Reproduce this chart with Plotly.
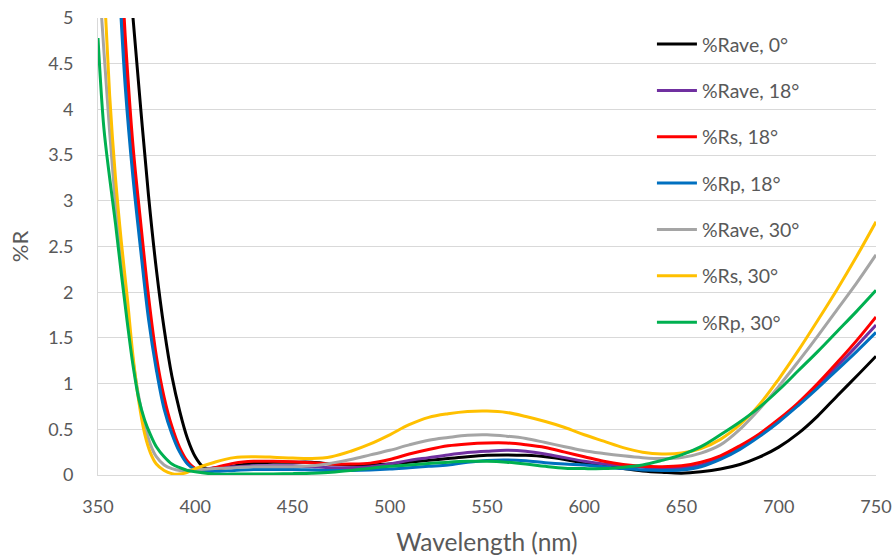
import plotly.graph_objects as go

# Reflectance (%R) versus wavelength for a broadband AR coating at several angles of incidence.
# Readings: tight steps on the steep UV edge, 10 nm steps across the visible band.

wl_rave0 = [350, 360, 364, 368, 372, 376, 380, 384, 388, 392, 396, 400, 404, 408,
            420, 430, 440, 450, 460, 470, 480, 490, 500, 510, 520, 530, 540, 550, 560, 570,
            580, 590, 600, 610, 620, 630, 640, 650, 660, 670, 680, 690, 700, 710, 720, 730,
            740, 750]
r_rave0 = [10.5, 7.3, 6.1, 5.0, 4.0, 3.05, 2.25, 1.6, 1.08, 0.7, 0.4, 0.2, 0.09, 0.06,
           0.1, 0.13, 0.14, 0.14, 0.14, 0.12, 0.11, 0.11, 0.12, 0.14, 0.16, 0.18, 0.2, 0.215, 0.22, 0.215,
           0.2, 0.17, 0.13, 0.1, 0.07, 0.045, 0.03, 0.02, 0.035, 0.065, 0.115, 0.195, 0.305, 0.455, 0.645, 0.865,
           1.08, 1.30]

wl_rave18 = [350, 356, 360, 364, 368, 372, 376, 380, 384, 388, 392, 396, 400, 404,
             410, 420, 430, 440, 450, 460, 470, 480, 490, 500, 510, 520, 530, 540, 550, 560, 570,
             580, 590, 600, 610, 620, 630, 640, 650, 660, 670, 680, 690, 700, 710, 720, 730,
             740, 750]
r_rave18 = [9.6, 7.3, 6.0, 4.5, 3.42, 2.6, 1.82, 1.22, 0.78, 0.49, 0.27, 0.13, 0.07, 0.06,
            0.08, 0.09, 0.1, 0.1, 0.1, 0.09, 0.08, 0.08, 0.09, 0.12, 0.16, 0.19, 0.22, 0.245, 0.26, 0.27, 0.26,
            0.23, 0.19, 0.15, 0.12, 0.1, 0.085, 0.075, 0.08, 0.11, 0.19, 0.3, 0.44, 0.6, 0.775, 0.975, 1.19,
            1.41, 1.64]

wl_rs18 = [350, 356, 360, 364, 368, 372, 376, 380, 384, 388, 392, 396, 400, 404,
           410, 420, 430, 440, 450, 460, 470, 480, 490, 500, 510, 520, 530, 540, 550, 560, 570,
           580, 590, 600, 610, 620, 630, 640, 650, 660, 670, 680, 690, 700, 710, 720, 730,
           740, 750]
r_rs18 = [10.0, 7.6, 6.3, 4.8, 3.6, 2.75, 1.95, 1.3, 0.85, 0.53, 0.3, 0.15, 0.07, 0.05,
          0.08, 0.13, 0.15, 0.15, 0.145, 0.135, 0.12, 0.12, 0.13, 0.17, 0.23, 0.28, 0.32, 0.34, 0.35, 0.35, 0.33,
          0.3, 0.25, 0.2, 0.15, 0.115, 0.095, 0.09, 0.1, 0.14, 0.21, 0.32, 0.45, 0.61, 0.79, 1.0, 1.23,
          1.47, 1.73]

wl_rp18 = [350, 356, 360, 364, 368, 372, 376, 380, 384, 388, 392, 396, 400, 404,
           410, 420, 430, 440, 450, 460, 470, 480, 490, 500, 510, 520, 530, 540, 550, 560, 570,
           580, 590, 600, 610, 620, 630, 640, 650, 660, 670, 680, 690, 700, 710, 720, 730,
           740, 750]
r_rp18 = [9.2, 7.0, 5.7, 4.25, 3.25, 2.45, 1.7, 1.15, 0.72, 0.45, 0.25, 0.12, 0.06, 0.04,
          0.04, 0.05, 0.06, 0.06, 0.06, 0.055, 0.05, 0.05, 0.055, 0.065, 0.08, 0.095, 0.11, 0.14, 0.16, 0.165, 0.155,
          0.135, 0.12, 0.11, 0.09, 0.07, 0.055, 0.05, 0.055, 0.09, 0.17, 0.28, 0.42, 0.58, 0.76, 0.95, 1.15,
          1.35, 1.56]

wl_rave30 = [350, 353, 356, 359, 362, 365, 368, 371, 374, 377, 380, 384, 388, 392, 396, 400,
             410, 420, 430, 440, 450, 460, 470, 480, 490, 500, 510, 520, 530, 540, 550, 560, 570,
             580, 590, 600, 610, 620, 630, 640, 650, 660, 670, 680, 690, 700, 710, 720, 730,
             740, 750]
r_rave30 = [5.6, 4.65, 3.75, 2.95, 2.3, 1.75, 1.25, 0.85, 0.55, 0.33, 0.2, 0.11, 0.07, 0.05, 0.05, 0.06,
            0.07, 0.08, 0.09, 0.09, 0.09, 0.1, 0.13, 0.17, 0.22, 0.27, 0.33, 0.38, 0.41, 0.435, 0.44, 0.425, 0.4,
            0.355, 0.31, 0.265, 0.235, 0.21, 0.19, 0.18, 0.19, 0.24, 0.33, 0.5, 0.72, 0.97, 1.24, 1.52, 1.81,
            2.1, 2.41]

wl_rs30 = [350, 353, 356, 359, 362, 365, 368, 371, 374, 377, 380, 384, 388, 392, 396, 400,
           410, 420, 430, 440, 450, 460, 470, 480, 490, 500, 510, 520, 530, 540, 550, 560, 570,
           580, 590, 600, 610, 620, 630, 640, 650, 660, 670, 680, 690, 700, 710, 720, 730,
           740, 750]
r_rs30 = [6.9, 5.4, 4.15, 3.25, 2.55, 1.95, 1.3, 0.8, 0.45, 0.24, 0.12, 0.05, 0.015, 0.01, 0.03, 0.07,
          0.14, 0.19, 0.2, 0.195, 0.185, 0.18, 0.2, 0.26, 0.34, 0.44, 0.55, 0.63, 0.67, 0.695, 0.7, 0.685, 0.64,
          0.585, 0.52, 0.44, 0.37, 0.3, 0.25, 0.23, 0.24, 0.29, 0.39, 0.55, 0.77, 1.05, 1.36, 1.69, 2.03,
          2.39, 2.77]

wl_rp30 = [350, 353, 356, 359, 362, 365, 368, 371, 374, 377, 380, 384, 388, 392, 396, 400,
           410, 420, 430, 440, 450, 460, 470, 480, 490, 500, 510, 520, 530, 540, 550, 560, 570,
           580, 590, 600, 610, 620, 630, 640, 650, 660, 670, 680, 690, 700, 710, 720, 730,
           740, 750]
r_rp30 = [4.78, 3.8, 3.25, 2.75, 2.2, 1.68, 1.2, 0.83, 0.6, 0.44, 0.31, 0.2, 0.12, 0.08, 0.05, 0.035,
          0.01, 0.01, 0.01, 0.012, 0.015, 0.02, 0.03, 0.05, 0.075, 0.095, 0.11, 0.125, 0.14, 0.15, 0.15, 0.14, 0.12,
          0.095, 0.075, 0.07, 0.07, 0.085, 0.11, 0.16, 0.22, 0.31, 0.44, 0.58, 0.74, 0.93, 1.14, 1.35, 1.57,
          1.79, 2.02]

series = [
    ("%Rave, 0°", wl_rave0, r_rave0, "#000000"),
    ("%Rave, 18°", wl_rave18, r_rave18, "#7030A0"),
    ("%Rs, 18°", wl_rs18, r_rs18, "#FF0000"),
    ("%Rp, 18°", wl_rp18, r_rp18, "#0070C0"),
    ("%Rave, 30°", wl_rave30, r_rave30, "#A5A5A5"),
    ("%Rs, 30°", wl_rs30, r_rs30, "#FFC000"),
    ("%Rp, 30°", wl_rp30, r_rp30, "#00B050"),
]

FONT = "Lato, 'Open Sans', sans-serif"
TEXT = "#595959"
GRID = "#D9D9D9"

fig = go.Figure()
for name, x, y, color in series:
    fig.add_trace(go.Scatter(
        x=x, y=y, name=name, mode="lines", legendgroup=name,
        line=dict(color=color, width=3, shape="spline", smoothing=1.0),
    ))

fig.update_layout(
    width=896, height=558,
    margin=dict(l=98, r=20, t=18, b=83),
    paper_bgcolor="white", plot_bgcolor="white",
    font=dict(family=FONT, color=TEXT, size=16),
    legend=dict(
        x=0.712, y=0.985, xanchor="left", yanchor="top",
        bgcolor="rgba(0,0,0,0)", font=dict(size=19.5, color=TEXT),
        tracegroupgap=18, itemwidth=40,
    ),
    xaxis=dict(
        range=[350, 750], dtick=50, tick0=350, automargin=False,
        showgrid=False, zeroline=False,
        showline=True, linecolor=GRID, linewidth=1,
        ticks="outside", ticklen=15, tickcolor="rgba(0,0,0,0)",
        tickfont=dict(size=18, color=TEXT),
        title=dict(text="Wavelength (nm)", font=dict(size=24.5, color=TEXT), standoff=18),
    ),
    yaxis=dict(
        range=[0, 5], dtick=0.5, tick0=0, automargin=False,
        showgrid=True, gridcolor=GRID, gridwidth=1, zeroline=False,
        showline=True, linecolor=GRID, linewidth=1,
        ticks="", ticklabelstandoff=20,
        tickfont=dict(size=18, color=TEXT),
        title=dict(text="%R", font=dict(size=22, color=TEXT), standoff=13),
    ),
)

fig.write_html("out.html")
